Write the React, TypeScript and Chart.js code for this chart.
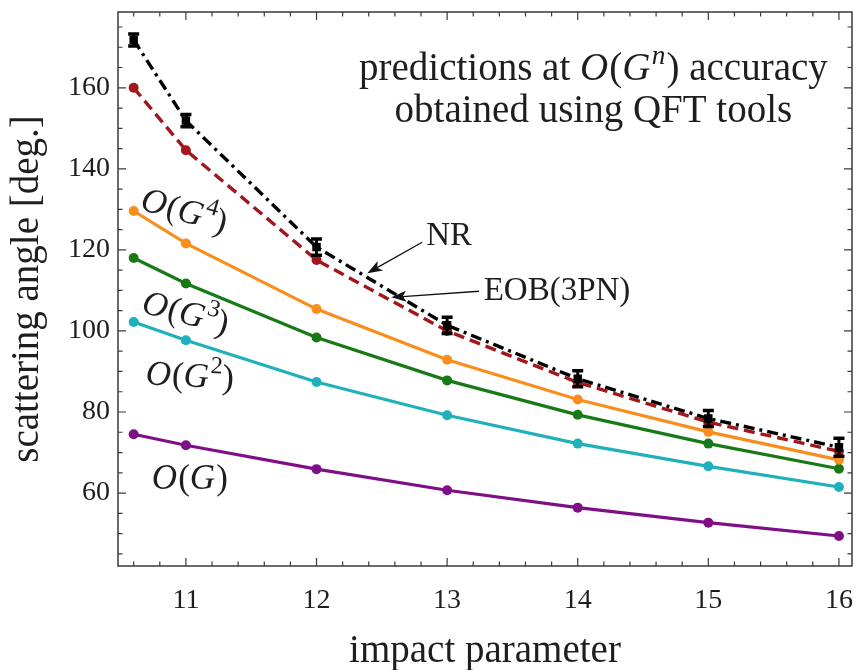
import React, { useEffect, useRef } from "react";
import { Chart, registerables } from "chart.js";
Chart.register(...registerables);

// ---- data ----
const impactParameter = [10.6, 11, 12, 13, 14, 15, 16];
const nrAngle = [171.8, 151.9, 120.7, 101.4, 88.2, 78.4, 71.3];
const nrError = [1.5, 1.5, 2, 2, 2, 2, 2.2];
const eobAngle = [160.0, 144.6, 117.5, 100.0, 87.3, 77.5, 70.3];
const g4Angle = [129.6, 121.6, 105.4, 92.9, 83.1, 75.1, 68.2];
const g3Angle = [118.0, 111.7, 98.4, 87.8, 79.3, 72.2, 66.0];
const g2Angle = [102.2, 97.7, 87.4, 79.2, 72.2, 66.6, 61.5];
const g1Angle = [74.5, 71.8, 65.9, 60.7, 56.4, 52.7, 49.4];
const xTickLabels = [11, 12, 13, 14, 15, 16];
const yTickLabels = [60, 80, 100, 120, 140, 160];

// ---- styles ----
const SERIF = '"Liberation Serif", "Times New Roman", serif';
const TEXT = "#1e1e1e";
const RED = "#a3161b";
const ORANGE = "#f98e1d";
const GREEN = "#177a17";
const CYAN = "#1fb0bb";
const PURPLE = "#7f0f86";

type Part = { t: string; it?: boolean; sup?: boolean };

function richWidth(ctx: CanvasRenderingContext2D, parts: Part[], size: number) {
  let w = 0;
  for (const p of parts) {
    ctx.font = `${p.it ? "italic " : ""}${p.sup ? size * 0.7 : size}px ${SERIF}`;
    w += ctx.measureText(p.t).width + (p.it ? size * 0.03 : 0);
  }
  return w;
}

function drawRich(ctx: CanvasRenderingContext2D, parts: Part[], x: number, y: number, size: number, align: "left" | "center") {
  const w = richWidth(ctx, parts, size);
  let cx = align === "center" ? x - w / 2 : x;
  ctx.textAlign = "left";
  ctx.textBaseline = "alphabetic";
  for (const p of parts) {
    ctx.font = `${p.it ? "italic " : ""}${p.sup ? size * 0.7 : size}px ${SERIF}`;
    ctx.fillText(p.t, cx, p.sup ? y - size * 0.42 : y);
    cx += ctx.measureText(p.t).width + (p.it ? size * 0.03 : 0);
  }
}

const orderLabels: { parts: Part[]; x: number; y: number; rot: number }[] = [
  { parts: [{ t: "O", it: true }, { t: "(" }, { t: "G", it: true }, { t: "4", sup: true }, { t: ")" }], x: 10.99, y: 129.8, rot: 16 },
  { parts: [{ t: "O", it: true }, { t: "(" }, { t: "G", it: true }, { t: "3", sup: true }, { t: ")" }], x: 11.0, y: 104.6, rot: 15 },
  { parts: [{ t: "O", it: true }, { t: "(" }, { t: "G", it: true }, { t: "2", sup: true }, { t: ")" }], x: 11.03, y: 89.1, rot: 3 },
  { parts: [{ t: "O", it: true }, { t: "(" }, { t: "G", it: true }, { t: ")" }], x: 11.03, y: 63.9, rot: 0 },
];

function drawArrow(ctx: CanvasRenderingContext2D, x1: number, y1: number, x2: number, y2: number) {
  const ang = Math.atan2(y2 - y1, x2 - x1);
  const L = 15, W = 5.5;
  const bx = x2 - Math.cos(ang) * L * 0.75, by = y2 - Math.sin(ang) * L * 0.75;
  ctx.beginPath();
  ctx.moveTo(x1, y1);
  ctx.lineTo(bx, by);
  ctx.lineWidth = 1.3;
  ctx.stroke();
  const px = -Math.sin(ang), py = Math.cos(ang);
  const hx = x2 - Math.cos(ang) * L, hy = y2 - Math.sin(ang) * L;
  ctx.beginPath();
  ctx.moveTo(x2, y2);
  ctx.lineTo(hx + px * W, hy + py * W);
  ctx.lineTo(bx, by);
  ctx.lineTo(hx - px * W, hy - py * W);
  ctx.closePath();
  ctx.fill();
}

const decor = {
  id: "decor",
  afterDraw(chart: any) {
    const { ctx, chartArea: a, scales } = chart;
    const xs = scales.x, ys = scales.y;
    ctx.save();
    // error bars on NR
    ctx.strokeStyle = "#000";
    for (let i = 0; i < impactParameter.length; i++) {
      const px = xs.getPixelForValue(impactParameter[i]);
      const t = ys.getPixelForValue(nrAngle[i] + nrError[i]);
      const b = ys.getPixelForValue(nrAngle[i] - nrError[i]);
      ctx.lineWidth = 3;
      ctx.beginPath();
      ctx.moveTo(px, t);
      ctx.lineTo(px, b);
      ctx.stroke();
      ctx.lineWidth = 3.5;
      ctx.beginPath();
      ctx.moveTo(px - 5.5, t);
      ctx.lineTo(px + 5.5, t);
      ctx.moveTo(px - 5.5, b);
      ctx.lineTo(px + 5.5, b);
      ctx.stroke();
    }
    // frame
    ctx.strokeStyle = "#3a3a3a";
    ctx.lineWidth = 1.5;
    ctx.strokeRect(a.left, a.top, a.right - a.left, a.bottom - a.top);
    // ticks
    ctx.lineWidth = 1.2;
    ctx.beginPath();
    for (let k = 53; k <= 80; k++) {
      const v = k / 5;
      const major = k % 5 === 0;
      const len = major ? 8 : 4.5;
      const px = xs.getPixelForValue(v);
      ctx.moveTo(px, a.bottom);
      ctx.lineTo(px, a.bottom - len);
      ctx.moveTo(px, a.top);
      ctx.lineTo(px, a.top + len);
    }
    for (let v = 45; v <= 175; v += 5) {
      const major = v % 20 === 0;
      const len = major ? 8 : 4.5;
      const py = ys.getPixelForValue(v);
      ctx.moveTo(a.left, py);
      ctx.lineTo(a.left + len, py);
      ctx.moveTo(a.right, py);
      ctx.lineTo(a.right - len, py);
    }
    ctx.stroke();

    ctx.fillStyle = TEXT;
    ctx.strokeStyle = TEXT;
    // axis titles
    ctx.font = `39px ${SERIF}`;
    ctx.textAlign = "center";
    ctx.textBaseline = "alphabetic";
    ctx.fillText("impact parameter", (a.left + a.right) / 2, 662);
    ctx.save();
    ctx.translate(38, (a.top + a.bottom) / 2);
    ctx.rotate(-Math.PI / 2);
    ctx.fillText("scattering angle [deg.]", 0, 0);
    ctx.restore();

    // top annotation
    const cx = xs.getPixelForValue(14.12);
    drawRich(ctx, [{ t: "predictions at " }, { t: "O", it: true }, { t: "(" }, { t: "G", it: true }, { t: "n", it: true, sup: true }, { t: ") accuracy" }], cx, ys.getPixelForValue(161.9), 39, "center");
    drawRich(ctx, [{ t: "obtained using QFT tools" }], cx, ys.getPixelForValue(151.5), 39, "center");

    // order labels
    for (const l of orderLabels) {
      ctx.save();
      ctx.translate(xs.getPixelForValue(l.x), ys.getPixelForValue(l.y));
      ctx.rotate((l.rot * Math.PI) / 180);
      drawRich(ctx, l.parts, 0, 35 * 0.33, 35, "center");
      ctx.restore();
    }

    // NR and EOB labels with arrows
    drawRich(ctx, [{ t: "NR" }], xs.getPixelForValue(12.84), ys.getPixelForValue(121.2), 33, "left");
    drawRich(ctx, [{ t: "EOB(3PN)" }], xs.getPixelForValue(13.28), ys.getPixelForValue(107.6), 33, "left");
    ctx.fillStyle = "#111";
    ctx.strokeStyle = "#111";
    drawArrow(ctx, xs.getPixelForValue(12.809), ys.getPixelForValue(121.9), xs.getPixelForValue(12.389), ys.getPixelForValue(114.25));
    drawArrow(ctx, xs.getPixelForValue(13.244), ys.getPixelForValue(109.8), xs.getPixelForValue(12.573), ys.getPixelForValue(108.3));
    ctx.restore();
  },
};

export default function App() {
  const ref = useRef<HTMLCanvasElement>(null);
  useEffect(() => {
    const pts = (ys: number[]) => impactParameter.map((x, i) => ({ x, y: ys[i] }));
    const solid = (label: string, ys: number[], color: string) => ({
      label,
      data: pts(ys),
      borderColor: color,
      backgroundColor: color,
      borderWidth: 3.2,
      pointRadius: 5,
      pointBackgroundColor: color,
      pointBorderColor: color,
      pointBorderWidth: 0,
      tension: 0,
    });
    const chart = new Chart(ref.current!, {
      type: "line",
      data: {
        datasets: [
          {
            label: "NR",
            data: pts(nrAngle),
            borderColor: "#000",
            backgroundColor: "#000",
            borderWidth: 3.4,
            borderDash: [11, 5, 3, 5],
            pointStyle: "rect",
            pointRadius: 6,
            pointBackgroundColor: "#000",
            pointBorderColor: "#000",
            pointBorderWidth: 0,
            tension: 0,
          },
          { ...solid("EOB(3PN)", eobAngle, RED), borderWidth: 3.4, borderDash: [11, 6] },
          solid("O(G^4)", g4Angle, ORANGE),
          solid("O(G^3)", g3Angle, GREEN),
          solid("O(G^2)", g2Angle, CYAN),
          solid("O(G)", g1Angle, PURPLE),
        ] as any,
      },
      options: {
        animation: false,
        responsive: true,
        maintainAspectRatio: false,
        events: [],
        layout: { padding: { left: 0, top: 12, right: 3, bottom: 0 } },
        plugins: { legend: { display: false }, tooltip: { enabled: false } },
        scales: {
          x: {
            type: "linear",
            min: 10.48,
            max: 16.1,
            grid: { display: false, drawTicks: false },
            border: { display: false },
            ticks: { font: { family: SERIF, size: 28 }, color: TEXT, padding: 18, maxRotation: 0 },
            afterBuildTicks: (s: any) => {
              s.ticks = xTickLabels.map((v) => ({ value: v }));
            },
            afterFit: (s: any) => {
              s.height = 104;
              s.paddingLeft = 0;
              s.paddingRight = 0;
            },
          },
          y: {
            type: "linear",
            min: 42,
            max: 178.7,
            grid: { display: false, drawTicks: false },
            border: { display: false },
            ticks: { font: { family: SERIF, size: 28 }, color: TEXT, padding: 8 },
            afterBuildTicks: (s: any) => {
              s.ticks = yTickLabels.map((v) => ({ value: v }));
            },
            afterFit: (s: any) => {
              s.width = 118;
              s.paddingTop = 0;
              s.paddingBottom = 0;
            },
          },
        },
      } as any,
      plugins: [decor],
    });
    return () => chart.destroy();
  }, []);
  return (
    <div style={{ position: "fixed", left: 0, top: 0, width: 858, height: 670, background: "#fff" }}>
      <canvas ref={ref} />
    </div>
  );
}
